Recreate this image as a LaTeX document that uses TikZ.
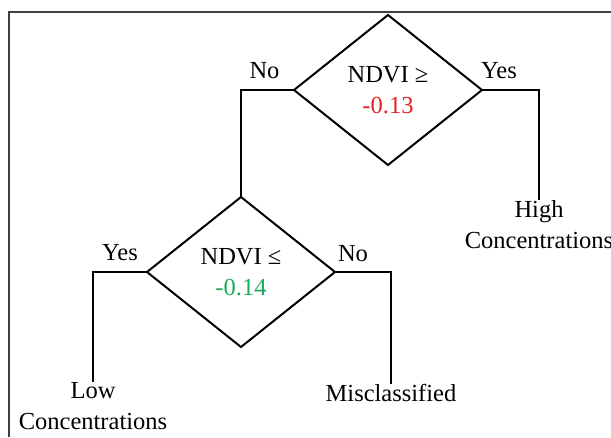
\documentclass[tikz,border=0pt]{standalone}
\usepackage{fontspec}
\setmainfont{Liberation Serif}
\usetikzlibrary{shapes.geometric}
\definecolor{redv}{RGB}{232,30,36}
\definecolor{greenv}{RGB}{24,172,92}
\begin{document}
\begin{tikzpicture}[x=1pt,y=-1pt,
  font=\fontsize{24.5}{31}\selectfont,
  dec/.style={draw, shape=diamond, line width=2pt, minimum width=188pt,
    minimum height=150pt, inner sep=0pt, outer sep=0pt, align=center},
  conn/.style={line width=2pt},
  lbl/.style={anchor=base, inner sep=0pt},
  leaf/.style={anchor=north, align=center, inner sep=0pt}]
\useasboundingbox (0,0) rectangle (611,437);
\draw[line width=1.5pt, black!75] (9,437) -- (9,12) -- (611,12);

\node[dec] (d1) at (388,90) {NDVI ≥\\\textcolor{redv}{-0.13}};
\node[dec] (d2) at (241,272) {NDVI ≤\\\textcolor{greenv}{-0.14}};

\node[leaf] (hi) at (539,200) {High\\Concentrations};
\node[leaf] (lo) at (93,382) {Low\\Concentrations};
\node[leaf] (mis) at (391,384) {Misclassified};

\node[lbl] (no1) at (264.5,78) {No};
\node[lbl] (yes1) at (499,78) {Yes};
\node[lbl] (yes2) at (120,260) {Yes};
\node[lbl] (no2) at (353,261) {No};

\draw[conn] (d1.west) -| (d2.north);
\draw[conn] (d1.east) -| (hi.north);
\draw[conn] (d2.west) -| (lo.north);
\draw[conn] (d2.east) -| (mis.north);
\end{tikzpicture}
\end{document}
